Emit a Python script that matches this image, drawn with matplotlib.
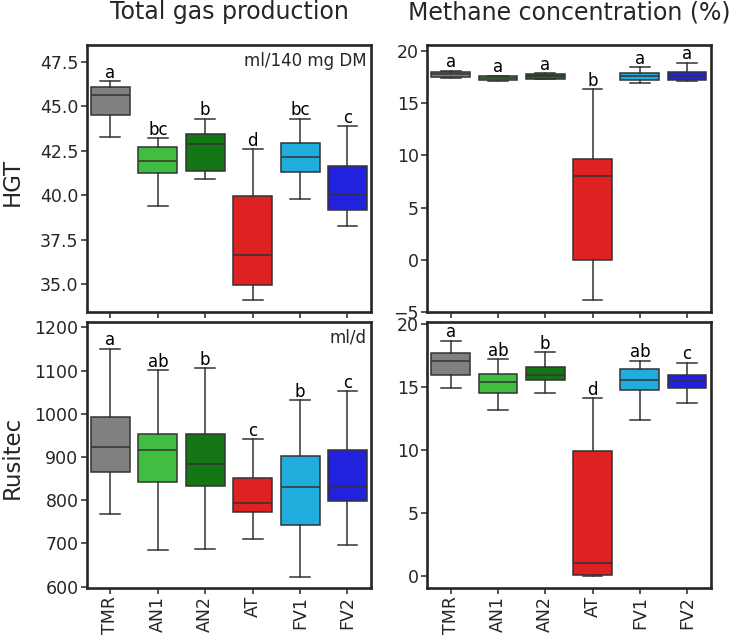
import numpy as np
import matplotlib.pyplot as plt

groups = ["TMR", "AN1", "AN2", "AT", "FV1", "FV2"]
colors = ["#808080", "#41be41", "#137513", "#de2121", "#21acde", "#2121de"]

# HGT, total gas (ml/140 mg DM): whisker low, q1, median, q3, whisker high
hgt_gas_wlo = [43.28, 39.40, 40.89, 34.10, 39.80, 38.28]
hgt_gas_q1 = [44.52, 41.24, 41.36, 34.93, 41.32, 39.16]
hgt_gas_med = [45.61, 41.94, 42.89, 36.65, 42.14, 40.02]
hgt_gas_q3 = [46.06, 42.70, 43.42, 39.97, 42.93, 41.65]
hgt_gas_whi = [46.42, 43.19, 44.30, 42.59, 44.30, 43.90]
hgt_gas_let = ["a", "bc", "b", "d", "bc", "c"]

# HGT, methane (%)
hgt_ch4_wlo = [17.35, 17.10, 17.25, -3.85, 16.92, 17.09]
hgt_ch4_q1 = [17.45, 17.18, 17.31, 0.00, 17.15, 17.21]
hgt_ch4_med = [17.73, 17.40, 17.55, 7.98, 17.57, 17.57]
hgt_ch4_q3 = [18.00, 17.57, 17.79, 9.62, 17.90, 17.98]
hgt_ch4_whi = [18.10, 17.60, 17.85, 16.32, 18.40, 18.85]
hgt_ch4_let = ["a", "a", "a", "b", "a", "a"]

# Rusitec, total gas (ml/d)
rus_gas_wlo = [768, 685, 687, 709, 623, 697]
rus_gas_q1 = [864, 841, 833, 773, 742, 799]
rus_gas_med = [922, 915, 884, 794, 830, 832]
rus_gas_q3 = [993, 954, 954, 851, 903, 917]
rus_gas_whi = [1151, 1101, 1105, 941, 1032, 1053]
rus_gas_let = ["a", "ab", "b", "c", "b", "c"]

# Rusitec, methane (%)
rus_ch4_wlo = [14.94, 13.15, 14.56, 0.00, 12.36, 13.74]
rus_ch4_q1 = [15.97, 14.51, 15.58, 0.05, 14.78, 14.91]
rus_ch4_med = [17.07, 15.42, 16.00, 0.98, 15.58, 15.50]
rus_ch4_q3 = [17.71, 16.05, 16.59, 9.93, 16.45, 15.95]
rus_ch4_whi = [18.71, 17.25, 17.76, 14.14, 17.12, 16.96]
rus_ch4_let = ["a", "ab", "b", "d", "ab", "c"]

dark = "#262626"
line_col = "#333333"

fig = plt.figure(figsize=(7.35, 6.41), dpi=100)
ax_tl = fig.add_axes([0.118, 0.513, 0.387, 0.417])
ax_tr = fig.add_axes([0.581, 0.513, 0.386, 0.417])
ax_bl = fig.add_axes([0.118, 0.083, 0.387, 0.415])
ax_br = fig.add_axes([0.581, 0.083, 0.386, 0.415])


def draw_panel(ax, wlo, q1, med, q3, whi, letters, ylim, yticks, show_x):
    stats = []
    for i in range(len(groups)):
        stats.append(dict(whislo=wlo[i], q1=q1[i], med=med[i], q3=q3[i],
                          whishi=whi[i], fliers=[]))
    bp = ax.bxp(stats, positions=range(len(groups)), widths=0.82,
                capwidths=0.42, patch_artist=True, showfliers=False,
                boxprops=dict(edgecolor=line_col, linewidth=1.1),
                medianprops=dict(color=line_col, linewidth=1.1),
                whiskerprops=dict(color=line_col, linewidth=1.1),
                capprops=dict(color=line_col, linewidth=1.1))
    for patch, c in zip(bp["boxes"], colors):
        patch.set_facecolor(c)
    for i, l in enumerate(letters):
        ax.annotate(l, (i, whi[i]), xytext=(0, -0.5), textcoords="offset points",
                    ha="center", va="bottom", fontsize=12, color="black")
    ax.set_xlim(-0.5, len(groups) - 0.5)
    ax.set_ylim(*ylim)
    ax.set_yticks(yticks)
    ax.set_xticks(range(len(groups)))
    if show_x:
        ax.set_xticklabels(groups, rotation=90)
    else:
        ax.set_xticklabels([])
    for s in ax.spines.values():
        s.set_linewidth(1.9)
        s.set_color(dark)
    ax.tick_params(axis="both", direction="out", length=4, width=1.1,
                   color=dark, labelcolor=dark, labelsize=12.5, pad=2)


draw_panel(ax_tl, hgt_gas_wlo, hgt_gas_q1, hgt_gas_med, hgt_gas_q3, hgt_gas_whi,
           hgt_gas_let, (33.43, 48.45), np.arange(35, 47.6, 2.5), False)
draw_panel(ax_tr, hgt_ch4_wlo, hgt_ch4_q1, hgt_ch4_med, hgt_ch4_q3, hgt_ch4_whi,
           hgt_ch4_let, (-5, 20.55), np.arange(-5, 21, 5), False)
draw_panel(ax_bl, rus_gas_wlo, rus_gas_q1, rus_gas_med, rus_gas_q3, rus_gas_whi,
           rus_gas_let, (597, 1213), np.arange(600, 1201, 100), True)
draw_panel(ax_br, rus_ch4_wlo, rus_ch4_q1, rus_ch4_med, rus_ch4_q3, rus_ch4_whi,
           rus_ch4_let, (-0.96, 20.2), np.arange(0, 21, 5), True)

ax_tl.text(0.985, 0.975, "ml/140 mg DM", transform=ax_tl.transAxes, ha="right",
           va="top", fontsize=12, color=dark)
ax_bl.text(0.985, 0.975, "ml/d", transform=ax_bl.transAxes, ha="right",
           va="top", fontsize=12, color=dark)

fig.text(0.118 + 0.387 / 2, 0.970, "Total gas production", ha="center",
         va="baseline", fontsize=17, color=dark)
fig.text(0.581 + 0.386 / 2, 0.970, "Methane concentration (%)", ha="center",
         va="baseline", fontsize=17, color=dark)
fig.text(0.016, 0.716, "HGT", rotation=90, ha="center", va="center",
         fontsize=16.5, color=dark)
fig.text(0.016, 0.287, "Rusitec", rotation=90, ha="center", va="center",
         fontsize=16.5, color=dark)

fig.savefig("out.png", dpi=100)
